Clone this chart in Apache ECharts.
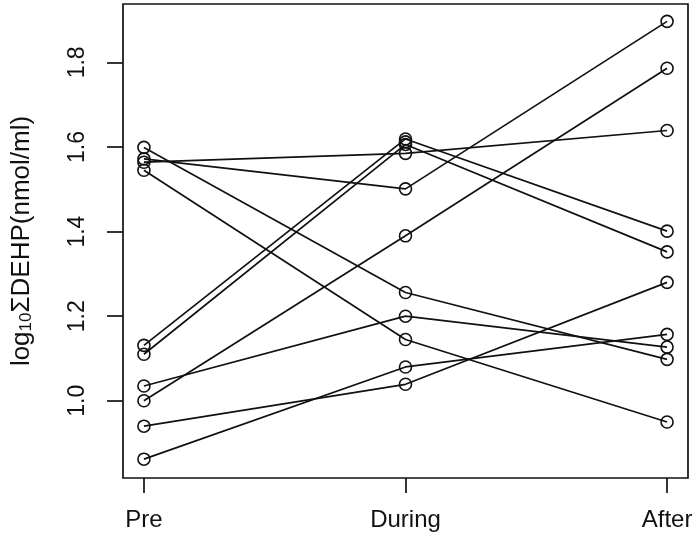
<!DOCTYPE html>
<html>
<head>
<meta charset="utf-8">
<script src="https://cdn.jsdelivr.net/npm/echarts@6/dist/echarts.min.js"></script>
<style>html,body{margin:0;padding:0;background:#fff}#c{width:695px;height:539px}</style>
</head>
<body>
<div id="c"></div>
<script>
// Data
const categories = ['Pre', 'During', 'After'];
const yTicks = [1.0, 1.2, 1.4, 1.6, 1.8];
const subject1 = [1.599, 1.256, 1.098];
const subject2 = [1.572, 1.501, 1.897];
const subject3 = [1.564, 1.585, 1.639];
const subject4 = [1.545, 1.145, 0.950];
const subject5 = [1.131, 1.619, 1.401];
const subject6 = [1.110, 1.606, 1.352];
const subject7 = [1.035, 1.200, 1.127];
const subject8 = [1.000, 1.390, 1.786];
const subject9 = [0.940, 1.039, 1.280];
const subject10 = [0.862, 1.080, 1.157];
const subject11 = [null, 1.612, null];
const subjects = [subject1, subject2, subject3, subject4, subject5, subject6,
                  subject7, subject8, subject9, subject10, subject11];

const FONT = 'Liberation Sans, Arial, Helvetica, sans-serif';
const INK = '#111';

const chart = echarts.init(document.getElementById('c'), null, {renderer: 'canvas'});
const series = subjects.map((vals, i) => ({
  type: 'line',
  name: 'S' + (i + 1),
  data: vals.map((v, j) => [j + 1, v]),
  connectNulls: false,
  symbol: 'circle',
  symbolSize: 12,
  showAllSymbol: true,
  lineStyle: {color: INK, width: 1.7},
  itemStyle: {color: 'rgba(0,0,0,0)', borderColor: INK, borderWidth: 1.6},
  emphasis: {disabled: true},
  animation: false
}));

chart.setOption({
  backgroundColor: '#fff',
  animation: false,
  grid: {left: 123, right: 7, top: 4, bottom: 61, show: true,
         containLabel: false, outerBoundsMode: 'none',
         borderColor: INK, borderWidth: 1.7, backgroundColor: 'transparent'},
  xAxis: {
    type: 'value', min: 0.92, max: 3.08,
    axisLine: {show: false},
    splitLine: {show: false},
    axisTick: {show: true, inside: false, length: 15, customValues: [1, 2, 3],
               lineStyle: {color: INK, width: 1.7}},
    axisLabel: {customValues: [1, 2, 3], margin: 30, fontSize: 24, color: INK,
                fontFamily: FONT,
                formatter: v => categories[Math.round(v) - 1] || ''}
  },
  yAxis: {
    type: 'value', min: 0.8175, max: 1.938,
    name: 'log{sub|10}ΣDEHP(nmol/ml)',
    nameLocation: 'middle', nameRotate: 90, nameGap: 88,
    nameTextStyle: {fontSize: 26, color: INK, fontFamily: FONT,
      rich: {sub: {fontSize: 17, color: INK, fontFamily: FONT, padding: [10, 0, 0, 0]}}},
    axisLine: {show: false},
    splitLine: {show: false},
    axisTick: {show: true, inside: false, length: 16, customValues: yTicks,
               lineStyle: {color: INK, width: 1.7}},
    axisLabel: {customValues: yTicks, rotate: 90, margin: 34, fontSize: 23, color: INK,
                fontFamily: FONT, formatter: v => v.toFixed(1)}
  },
  series: series
});
</script>
</body>
</html>
